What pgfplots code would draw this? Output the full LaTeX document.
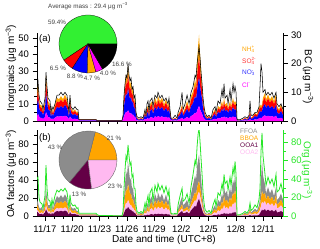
\documentclass[border=0pt]{standalone}
\usepackage{fontspec}
\setmainfont{Liberation Sans}
\usepackage{pgfplots}
\usepackage{pgfplotstable}
\pgfplotsset{compat=1.18}
\definecolor{cG}{RGB}{50,240,50}
\definecolor{cGL}{RGB}{40,230,40}
\definecolor{cOr}{RGB}{255,165,0}
\definecolor{cRed}{RGB}{255,0,0}
\definecolor{cBlue}{RGB}{0,0,255}
\definecolor{cMag}{RGB}{255,0,255}
\definecolor{cGray}{RGB}{140,140,140}
\definecolor{cPur}{RGB}{100,0,70}
\definecolor{cPink}{RGB}{255,185,240}
\pgfplotstableread{
t Cl NO3 SO4 NH4 BC O1 O2 BB FF Org
16.12 3 6 3.8 2.2 12 4.5 2.7 5.4 5.4 40
16.23 4.4 8.8 5.5 3.3 14 3.8 2.2 4.5 4.5 42
16.34 2.8 5.6 3.5 2.1 9 2.5 1.5 3 3 20
16.45 2 4 2.5 1.5 7 2 1.2 2.4 2.4 15
16.67 1.8 3.6 2.3 1.3 6 2.5 1.5 3 3 13
16.78 1.2 2.4 1.5 0.9 4 1.3 0.8 1.5 1.5 8
16.89 1.8 3.6 2.3 1.3 6 3 1.8 3.6 3.6 15
17.00 2.4 4.8 3 1.8 8 3.8 2.2 4.5 4.5 22
17.11 5.4 10.8 6.8 4 17 7.5 4.5 9 9 55
17.22 4 8 5 3 12 5 3 6 6 30
17.33 2.4 4.8 3 1.8 8 3 1.8 3.6 3.6 18
17.55 2 4 2.5 1.5 7 3 1.8 3.6 3.6 16
17.66 0.8 1.6 1 0.6 3 1.3 0.8 1.5 1.5 8
17.77 1.6 3.2 2 1.2 5 3.5 2.1 4.2 4.2 18
17.88 1 2 1.3 0.8 4 2 1.2 2.4 2.4 12
18.10 2 4 2.5 1.5 6 4.3 2.6 5.1 5.1 22
18.32 2.8 5.6 3.5 2.1 9 5.5 3.3 6.6 6.6 28
18.54 2.6 5.2 3.3 2 9 5 3 6 6 26
18.76 3 6 3.8 2.2 10 5.8 3.5 6.9 6.9 29
18.98 2.6 5.2 3.3 2 9 5 3 6 6 27
19.20 3.2 6.4 4 2.4 10 6 3.6 7.2 7.2 30
19.42 2.6 5.2 3.3 2 9 5 3 6 6 26
19.53 2 4 2.5 1.5 6 3 1.8 3.6 3.6 18
19.64 0.8 1.6 1 0.6 3 1.3 0.8 1.5 1.5 8
19.75 2.8 5.6 3.5 2.1 9 4.5 2.7 5.4 5.4 23
19.86 1.6 3.2 2 1.2 5 2.5 1.5 3 3 14
20.08 1.2 2.4 1.5 0.9 4 2 1.2 2.4 2.4 11
20.30 1.4 2.8 1.8 1 5 2.3 1.4 2.7 2.7 12
20.52 1 2 1.3 0.7 4 1.3 0.8 1.5 1.5 8
20.63 1.2 2.4 1.5 0.9 4 1.5 0.9 1.8 1.8 9
20.74 0.2 0.4 0.3 0.1 0.5 0.5 0.3 0.6 0.6 3
20.85 0.2 0.4 0.3 0.1 0.5 0.5 0.3 0.6 0.6 3
22.62 0.2 0.4 0.3 0.1 0.5 0.5 0.3 0.6 0.6 3
22.73 0.04 0.08 0.05 0.03 0.2 0.25 0.15 0.3 0.3 1.5
22.95 0.04 0.08 0.05 0.03 0.2 0.1 0.1 0.15 0.15 0.5
25.48 0.04 0.08 0.05 0.03 0.2 0.1 0.05 0.1 0.05 0.3
25.59 0.6 1.2 0.8 0.4 2 0.5 0.4 0.9 1.2 5
25.70 3 6 3.8 2.2 9 3.4 2.6 6 8 30
25.81 4.4 8.8 5.5 3.3 13 6 4.6 10.5 14 50
25.92 5.6 11.2 7 4.2 16 8.5 6.5 15 20 65
26.03 5 10 6.3 3.7 15 7.7 5.9 13.5 18 60
26.14 6.6 13.2 8.3 4.9 20 10.2 7.8 18 24 77
26.25 5.2 10.4 6.5 3.9 16 8.5 6.5 15 20 65
26.36 4.4 8.8 5.5 3.3 14 6.8 5.2 12 16 55
26.47 4.8 9.6 6 3.6 15 7.1 5.5 12.6 16.8 58
26.58 3.6 7.2 4.5 2.7 11 5.1 3.9 9 12 42
26.69 4 8 5 3 12 5.4 4.2 9.6 12.8 45
26.80 2.4 4.8 3 1.8 8 3.4 2.6 6 8 30
26.91 2.8 5.6 3.5 2.1 9 3.7 2.9 6.6 8.8 30
27.02 1 2 1.3 0.7 3 1.4 1 2.4 3.2 12
27.13 0.4 0.8 0.5 0.3 1.5 0.5 0.4 0.9 1.2 5
27.35 0.2 0.4 0.3 0.1 1 0.3 0.3 0.6 0.8 3
27.57 0.4 0.8 0.5 0.3 1.5 0.7 0.5 1.2 1.6 5
27.79 0.2 0.4 0.3 0.1 1 0.3 0.3 0.6 0.8 3
28.01 1.2 2.4 1.5 0.9 4 1 3 3 3 14
28.12 0.6 1.2 0.8 0.4 2 0.5 1.5 1.5 1.5 8
28.23 1.6 3.2 2 1.2 6 1.2 3.6 3.6 3.6 17
28.34 1.8 3.6 2.3 1.3 7 1.5 4.5 4.5 4.5 22
28.45 0.8 1.6 1 0.6 3 0.7 2.1 2.1 2.1 10
28.56 2 4 2.5 1.5 7 1.8 5.4 5.4 5.4 25
28.78 2.4 4.8 3 1.8 8 2.2 6.6 6.6 6.6 30
28.89 1.4 2.8 1.8 1 5 1.2 3.6 3.6 3.6 16
29.11 2.8 5.6 3.5 2.1 9 2.5 7.5 7.5 7.5 33
29.33 2.2 4.4 2.8 1.6 8 1.8 5.4 5.4 5.4 26
29.44 3 6 3.8 2.2 10 2.6 7.8 7.8 7.8 35
29.66 2.4 4.8 3 1.8 8 2 6 6 6 28
29.88 2.8 5.6 3.5 2.1 9 2.5 7.5 7.5 7.5 33
30.10 2 4 2.5 1.5 7 1.7 5.1 5.1 5.1 25
30.32 2.6 5.2 3.3 1.9 8 2.4 7.2 7.2 7.2 32
30.54 1.8 3.6 2.3 1.3 6 1.5 4.5 4.5 4.5 22
30.65 2.4 4.8 3 1.8 8 2 6 6 6 28
30.76 1.2 2.4 1.5 0.9 4 0.8 2.4 2.4 2.4 12
30.87 0.4 0.8 0.5 0.3 1 0.2 0.6 0.6 0.6 3
31.10 0.2 0.4 0.3 0.1 1 0.1 0.3 0.3 0.3 2
31.32 0.4 0.8 0.5 0.3 2 0.2 0.6 0.6 0.6 3
31.54 0.2 0.4 0.3 0.1 1 0.1 0.3 0.3 0.3 2
31.65 0.8 1.6 1 0.6 3 2 1.1 1.6 3.3 12
31.87 1.2 2.4 1.5 0.9 5 3.8 2.1 3 6.1 22
32.09 2 4 2.5 1.5 10 5.5 3.1 4.4 9 30
32.20 1 2 1.3 0.7 4 3 1.7 2.4 4.9 16
32.42 1.6 3.2 2 1.2 6 3.5 2 2.8 5.7 18
32.64 2.4 4.8 3 1.8 9 4.5 2.5 3.6 7.4 24
32.86 1.6 3.2 2 1.2 6 2.5 1.4 2 4.1 14
33.08 3 6 3.8 2.2 10 6.3 3.5 5 10.2 32
33.30 3.6 7.2 4.5 2.7 12 8.8 4.9 7 14.3 45
33.52 5 10 6.3 3.7 16 11.3 6.3 9 18.4 60
33.63 4.4 8.8 5.5 3.3 15 10 5.6 8 16.4 55
33.74 6 12 9 8 20 14 7 10 24 75
33.85 8 15 11 11 23 17 8 11 26 88
33.96 9 17 12 14 26 19 8 12 29 95
34.07 7 14 10 9 22 15 7 10 23 80
34.18 5.5 11 8 5.5 17 11 6 8 17 62
34.29 4.4 8.8 5.5 3.3 13 7 4 5.6 11.4 45
34.40 2.4 4.8 3 1.8 8 3.8 2.1 3 6.1 25
34.51 1.6 3.2 2 1.2 5 2 1.1 1.6 3.3 14
34.62 0.8 1.6 1 0.6 3 1 0.6 0.8 1.6 7
34.84 0.4 0.8 0.5 0.3 1.5 0.2 0.5 0.6 0.7 4
35.06 0.6 1.2 0.8 0.4 2 0.4 1 1.2 1.4 6
35.28 0.2 0.4 0.3 0.1 1 0.2 0.5 0.6 0.7 3
35.50 1 2 1.3 0.7 4 0.8 2 2.4 2.8 12
35.72 1.4 2.8 1.8 1 5 1.2 3 3.6 4.2 18
35.83 0.8 1.6 1 0.6 3 0.7 1.8 2.1 2.4 10
36.05 1.8 3.6 2.3 1.3 7 1.8 4.5 5.4 6.3 25
36.27 1.6 3.2 2 1.2 6 1.5 3.8 4.5 5.2 22
36.49 2.4 4.8 3 1.8 11 2.5 6.3 7.5 8.7 35
36.60 1.8 3.6 2.3 1.3 8 2 5 6 7 28
36.71 2.8 5.6 3.5 2.1 13 3.5 8.8 10.5 12.2 45
36.82 2 4 2.5 1.5 8 2.5 6.3 7.5 8.7 35
37.04 2.2 4.4 2.8 1.6 9 2.8 7 8.4 9.8 38
37.15 1.6 3.2 2 1.2 6 2 5 6 7 28
37.37 2.4 4.8 3 1.8 11 3.2 8 9.6 11.2 42
37.48 1.8 3.6 2.3 1.3 7 2.5 6.3 7.5 8.7 33
37.70 2.8 5.6 3.5 2.1 13 4 10 12 14 52
37.81 2.2 4.4 2.8 1.6 10 3.5 8.8 10.5 12.2 45
37.92 2.4 4.8 3 1.8 12 4.5 11.3 13.5 15.7 59
38.03 2.2 4.4 2.8 1.6 10 3.5 8.8 10.5 12.2 45
38.14 0.1 0.2 0.1 0.1 0.5 0.1 0.3 0.3 0.3 1
38.47 0.1 0.2 0.1 0.1 0.5 0.1 0.3 0.3 0.3 1.5
38.80 0.2 0.4 0.3 0.1 1 0.2 0.5 0.6 0.7 3
39.02 0.4 0.8 0.5 0.3 1.5 0.4 1 1.2 1.4 5
39.24 0.2 0.4 0.3 0.1 1 0.2 0.5 0.6 0.7 3
39.46 0.6 1.2 0.8 0.4 2 0.5 1.3 1.5 1.7 7
39.57 1.2 2.4 1.5 0.9 7 1 2.5 3 3.5 14
39.68 0.4 0.8 0.5 0.3 2 0.4 1 1.2 1.4 6
39.90 0.6 1.2 0.8 0.4 2 0.6 1.5 1.8 2.1 8
40.12 1 2 1.3 0.7 3 0.8 2 2.4 2.8 12
40.34 0.8 1.6 1 0.6 3 0.6 1.5 1.8 2.1 9
40.56 1.6 3.2 2 1.2 5 1.2 3 3.6 4.2 18
40.67 2 4 2.5 1.5 12 3 4 5 8 30
40.78 1.8 3.6 2.3 1.3 20 5 6 9 20 70
40.89 2 4 2.5 1.5 17 7 9 12 34 90
41.00 2.8 5.6 3.5 2.1 10 6 8 10 21 65
41.22 3.4 6.8 4.3 2.5 11 7.7 8.8 8.8 9.7 45
41.33 2.6 5.2 3.3 1.9 9 5.5 6.3 6.3 6.9 33
41.55 3.2 6.4 4 2.4 10 7 8 8 9 42
41.77 2.6 5.2 3.3 1.9 9 5.5 6.3 6.3 6.9 35
41.99 3 6 3.8 2.2 10 6.6 7.5 7.5 8.4 40
42.21 2.4 4.8 3 1.8 8 4.8 5.5 5.5 6.2 32
42.43 3.2 6.4 4 2.4 10 7 8 8 9 45
42.54 1.8 3.6 2.3 1.3 6 4 4.5 4.5 5 26
42.76 1.4 2.8 1.8 1 5 4.4 5 5 5.6 28
42.98 2 4 2.5 1.5 6 5.5 6.3 6.3 6.9 35
43.20 1.2 2.4 1.5 0.9 4 4 4.5 4.5 5 25
}\dat
\pgfplotsset{base/.style={scale only axis, width=246pt, xmin=16.12, xmax=43.2, ymin=0,
  tick align=outside, major tick length=4.5pt, minor tick length=3pt,
  /pgf/number format/assume math mode=true,
  ticklabel style={font=\fontsize{9.5}{10}\selectfont},
  axis line style={line width=0.6pt},
  tick style={black, line width=0.5pt}}}
\newcommand{\um}{(μg m\textsuperscript{−3})}
\begin{document}
\begin{tikzpicture}[x=1pt,y=1pt]
\path[use as bounding box] (0,0) rectangle (320,-248);
% panel a
\begin{axis}[base, at={(37pt,-121pt)}, anchor=south west, height=88pt, ymax=53,
  axis x line*=bottom, axis y line*=left,
  xtick={17,20,...,41}, xticklabels={}, minor xtick={17,...,43},
  ytick={0,10,...,50}, minor ytick={5,15,...,45}, stack plots=y]
\addplot[draw=none, fill=cMag, mark=none] table[x=t,y=Cl]{\dat} \closedcycle;
\addplot[draw=none, fill=cBlue, mark=none] table[x=t,y=NO3]{\dat} \closedcycle;
\addplot[draw=none, fill=cRed, mark=none] table[x=t,y=SO4]{\dat} \closedcycle;
\addplot[draw=none, fill=cOr, mark=none] table[x=t,y=NH4]{\dat} \closedcycle;
\end{axis}
\begin{axis}[base, at={(37pt,-121pt)}, anchor=south west, height=88pt, ymax=30.7,
  axis y line*=right, axis x line=none,
  ytick={0,10,20,30}, minor ytick={5,15,25}]
\addplot[black, line width=0.55pt, mark=none] table[x=t,y=BC]{\dat};
\end{axis}
% panel b
\begin{axis}[base, at={(37pt,-216pt)}, anchor=south west, height=86pt, ymax=95.5,
  axis x line*=bottom, axis y line*=left,
  xtick={17,20,...,41}, minor xtick={17,...,43},
  xticklabels={11/17,11/20,11/23,11/26,11/29,12/2,12/5,12/8,12/11},
  xticklabel style={yshift=-1.5pt},
  ytick={0,20,...,80}, minor ytick={10,30,...,90}, stack plots=y]
\addplot[draw=none, fill=cPur, mark=none] table[x=t,y=O1]{\dat} \closedcycle;
\addplot[draw=none, fill=cPink, mark=none] table[x=t,y=O2]{\dat} \closedcycle;
\addplot[draw=none, fill=cOr, mark=none] table[x=t,y=BB]{\dat} \closedcycle;
\addplot[draw=none, fill=cGray, mark=none] table[x=t,y=FF]{\dat} \closedcycle;
\end{axis}
\begin{axis}[base, at={(37pt,-216pt)}, anchor=south west, height=86pt, ymax=93,
  axis y line*=right, axis x line=none,
  y axis line style={cGL}, tick style={cGL}, yticklabel style={text=cGL},
  ytick={0,20,...,80}, minor ytick={10,30,...,90}]
\addplot[cGL, line width=0.8pt, mark=none] table[x=t,y=Org]{\dat};
\end{axis}
% labels
\node[font=\fontsize{9.5}{10}\selectfont] at (45,-39) {(a)};
\node[font=\fontsize{9.5}{10}\selectfont] at (45,-138) {(b)};
\node[rotate=90, font=\fontsize{10}{11}\selectfont] at (11,-68) {Inorgnaics \um};
\node[rotate=90, font=\fontsize{10}{11}\selectfont] at (11,-174) {OA factors \um};
\node[rotate=-90, font=\fontsize{10}{11}\selectfont] at (308,-77) {BC \um};
\node[rotate=-90, font=\fontsize{10}{11}\selectfont, text=cGL] at (307,-170) {Org \um};
\node[font=\fontsize{10}{11}\selectfont] at (164,-240) {Date and time (UTC+8)};
% legends
\begin{scope}[every node/.style={anchor=west, inner sep=0pt, font=\fontsize{6.5}{7}\selectfont}]
\node[text=cOr] at (242,-49) {NH\rlap{\textsubscript{4}}\textsuperscript{+}};
\node[text=cRed!80] at (242,-61) {SO\rlap{\textsubscript{4}}\textsuperscript{2-}};
\node[text=cBlue!80] at (242,-73) {NO\rlap{\textsubscript{3}}\textsuperscript{-}};
\node[text=cMag] at (242,-85) {Cl\textsuperscript{-}};
\node[text=cGray] at (240,-131) {FFOA};
\node[text=cOr] at (240,-138) {BBOA};
\node[text=cPur] at (240,-145) {OOA1};
\node[text=cPink] at (240,-152) {OOA2};
\end{scope}
% pie a
\coordinate (pa) at (88,-44);
\foreach \a/\b/\c in {0/213.84/cG, 213.84/237.24/cRed, 237.24/268.92/cBlue, 268.92/285.84/cOr, 285.84/300.24/cMag, 300.24/360/black}
  \filldraw[fill=\c, draw=black, line width=0.25pt] (pa) -- ++(\a:29pt) arc[start angle=\a, end angle=\b, radius=29pt] -- cycle;
% pie b
\coordinate (pb) at (88,-160);
\foreach \a/\b/\c in {0/75.6/cOr, 75.6/230.4/cGray, 230.4/277.2/cPur, 277.2/360/cPink}
  \filldraw[fill=\c, draw=black!60, line width=0.35pt] (pb) -- ++(\a:29pt) arc[start angle=\a, end angle=\b, radius=29pt] -- cycle;
\begin{scope}[every node/.style={inner sep=0pt, font=\fontsize{6.3}{7}\selectfont, text=black!75}]
\node at (88,-6) {Average mass : 29.4 μg m\textsuperscript{−3}};
\node at (57,-22) {59.4\%};
\node at (58,-68) {6.5 \%};
\node at (75,-76) {8.8 \%};
\node at (92,-78) {4.7 \%};
\node at (108,-73) {4.0 \%};
\node at (122,-64) {16.6 \%};
\node at (55,-147) {43 \%};
\node at (114,-138) {21 \%};
\node at (115,-186) {23 \%};
\node at (79,-194) {13 \%};
\end{scope}
\end{tikzpicture}
\end{document}
